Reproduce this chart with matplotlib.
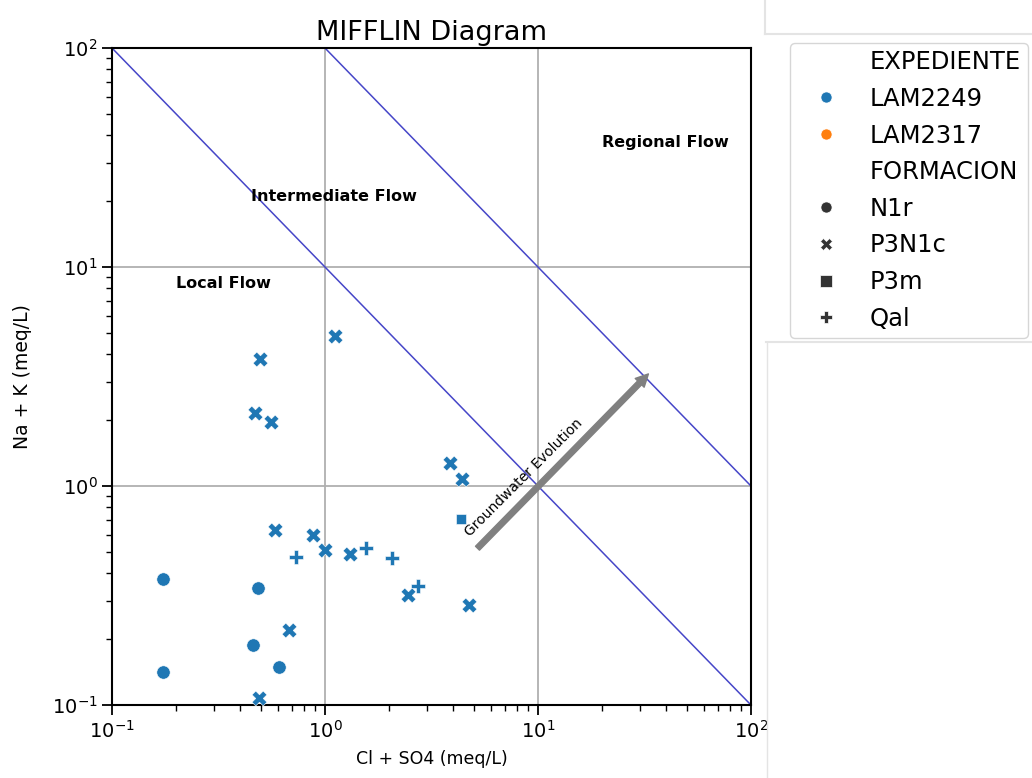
import numpy as np
import matplotlib
matplotlib.use("Agg")
import matplotlib.pyplot as plt
from matplotlib.lines import Line2D
from matplotlib.patches import Rectangle

# Datos (meq/L)
expediente = ["LAM2249", "LAM2317"]
formaciones = ["N1r", "P3N1c", "P3m", "Qal"]

n1r_cl_so4 = [0.173, 0.484, 0.459, 0.608, 0.173]
n1r_na_k = [0.376, 0.342, 0.188, 0.149, 0.142]

p3n1c_cl_so4 = [1.11, 0.495, 0.469, 0.557, 3.86, 4.40, 0.582, 0.879, 1.00, 1.31, 2.45, 4.74, 0.678, 0.49]
p3n1c_na_k = [4.84, 3.80, 2.15, 1.96, 1.27, 1.08, 0.629, 0.597, 0.51, 0.489, 0.318, 0.286, 0.220, 0.108]

p3m_cl_so4 = [4.35]
p3m_na_k = [0.706]

qal_cl_so4 = [0.731, 1.56, 2.07, 2.73]
qal_na_k = [0.474, 0.521, 0.469, 0.349]

colores = {"LAM2249": "#1f77b4", "LAM2317": "#ff7f0e"}
marcadores = {"N1r": "o", "P3N1c": "X", "P3m": "s", "Qal": "P"}
tamanos = {"N1r": 92, "P3N1c": 115, "P3m": 45, "Qal": 110}

datos = {
    "N1r": (n1r_cl_so4, n1r_na_k),
    "P3N1c": (p3n1c_cl_so4, p3n1c_na_k),
    "P3m": (p3m_cl_so4, p3m_na_k),
    "Qal": (qal_cl_so4, qal_na_k),
}

fig = plt.figure(figsize=(10.32, 7.78), dpi=100)
ax = fig.add_axes([0.1085, 0.0938, 0.6192, 0.8445])

ax.set_xscale("log")
ax.set_yscale("log")
ax.set_xlim(0.1, 100)
ax.set_ylim(0.1, 100)

# Lineas de flujo (x*y = 10 y x*y = 100)
xs = np.array([0.1, 100])
ax.plot(xs, 10 / xs, color="#4646c8", lw=1.1, zorder=2)
xs2 = np.array([1, 100])
ax.plot(xs2, 100 / xs2, color="#4646c8", lw=1.1, zorder=2)

for f in formaciones:
    x, y = datos[f]
    ax.scatter(x, y, s=tamanos[f], marker=marcadores[f], color=colores["LAM2249"],
               edgecolors="white", linewidths=0.4, zorder=3)

# Flecha de evolucion
ax.annotate("", xy=(33, 3.25), xytext=(5.2, 0.52),
            arrowprops=dict(facecolor="gray", edgecolor="gray", width=4, headwidth=9, headlength=9),
            zorder=4)
ax.text(8.6, 1.09, "Groundwater Evolution", rotation=45, fontsize=10,
        ha="center", va="center", rotation_mode="anchor", zorder=5)

ax.text(0.2, 8.4, "Local Flow", fontsize=11.5, fontweight="bold", va="center", ha="left")
ax.text(0.45, 21, "Intermediate Flow", fontsize=11.5, fontweight="bold", va="center", ha="left")
ax.text(20, 37, "Regional Flow", fontsize=11.5, fontweight="bold", va="center", ha="left")

ax.grid(True, which="major", color="#b0b0b0", lw=1.3)
ax.set_axisbelow(True)
for s in ax.spines.values():
    s.set_linewidth(1.5)
ax.tick_params(which="major", length=7, width=1.3, labelsize=14)
ax.tick_params(which="minor", length=4, width=1.0)

ax.set_title("MIFFLIN Diagram", fontsize=19.5)
ax.set_xlabel("Cl + SO4 (meq/L)", fontsize=12.5, labelpad=6)
ax.set_ylabel("Na + K (meq/L)", fontsize=13.5, labelpad=14)

# Panel blanco de la derecha (recorte de la captura)
fig.add_artist(Rectangle((767 / 1032, 0), 1 - 767 / 1032, 1, transform=fig.transFigure,
                         facecolor="white", edgecolor="none", zorder=1))
gris = "#e4e4e4"
fig.add_artist(Line2D([765 / 1032, 1], [1 - 34 / 778] * 2, transform=fig.transFigure, color=gris, lw=1.5, zorder=2))
fig.add_artist(Line2D([765 / 1032] * 2, [1 - 34 / 778, 1], transform=fig.transFigure, color=gris, lw=1.5, zorder=2))
fig.add_artist(Line2D([766 / 1032, 1], [1 - 342 / 778] * 2, transform=fig.transFigure, color=gris, lw=1.5, zorder=2))
fig.add_artist(Line2D([767 / 1032] * 2, [0, 1 - 342 / 778], transform=fig.transFigure, color=gris, lw=1.0, zorder=2))

# Leyenda
handles = [Line2D([], [], linestyle="none", marker="")]
labels = ["EXPEDIENTE"]
for e in expediente:
    handles.append(Line2D([], [], linestyle="none", marker="o", markersize=8,
                          markerfacecolor=colores[e], markeredgecolor="white", markeredgewidth=0.5))
    labels.append(e)
handles.append(Line2D([], [], linestyle="none", marker=""))
labels.append("FORMACION")
for f in formaciones:
    handles.append(Line2D([], [], linestyle="none", marker=marcadores[f], markersize=8,
                          markerfacecolor="#333333", markeredgecolor="white", markeredgewidth=0.5))
    labels.append(f)

fig.legend(handles, labels, loc="upper left", bbox_to_anchor=(790 / 1032, 1 - 43 / 778),
           borderaxespad=0, fontsize=17.5, frameon=True, handletextpad=0.6, handlelength=2.36,
           labelspacing=0.52, borderpad=0.3)

fig.savefig("out.png", dpi=100)
